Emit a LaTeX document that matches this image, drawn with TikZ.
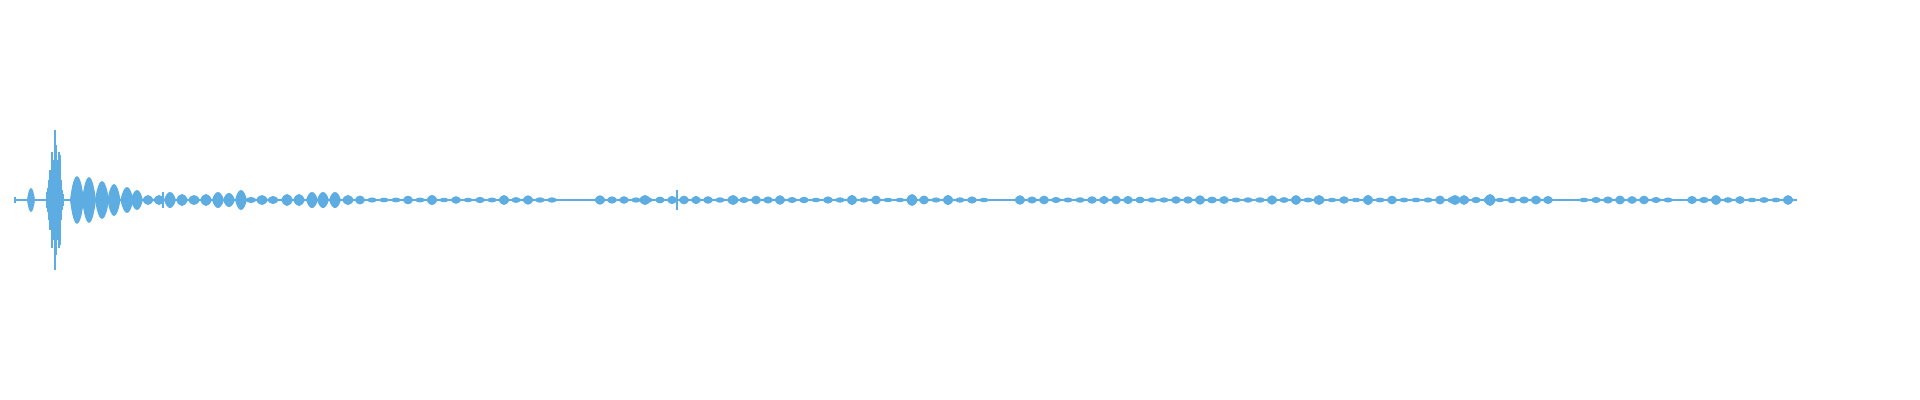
\documentclass[tikz,border=0pt]{standalone}
\usepackage{tikz}
\definecolor{wave}{RGB}{93,173,226}
\tikzset{
  blob/.style={fill=wave, draw=none},
  spike/.style={draw=wave, line width=0.45pt},
}
\newcommand{\blob}[3]{% centre x, half width, half height
  \fill[blob] (#1-#2,200) .. controls (#1-0.45*#2,200-1.33*#3) and (#1+0.45*#2,200-1.33*#3) .. (#1+#2,200)
    .. controls (#1+0.45*#2,200+1.33*#3) and (#1-0.45*#2,200+1.33*#3) .. cycle;}
\begin{document}
\begin{tikzpicture}[x=0.01cm,y=-0.01cm]
    \useasboundingbox (0,0) rectangle (1920,400);
    % thin base line
    \draw[wave, line width=0.5pt] (15,200) -- (360,200);
    \draw[wave, line width=0.3pt] (360,200) -- (1797,200);
    % first click
    \draw[spike] (15,197) -- (15,203);
    \blob{31}{4}{12}
    % main hit
    \foreach \x/\h in {47/8,48/12,49/20,50/30,51/25,52/48,53/35,54/40,55/70,56/55,57/40,58/35,59/48,60/45,61/20,62/10,63/6} {
      \draw[spike] (\x,200-\h) -- (\x,200+\h);
    }
    % decaying ring
    \foreach \x/\w/\h in {77/7/24,89/7/23,102/7/19,114/6.5/16,127/6.5/13,137/6/10,148/5.5/5,
      159/5.5/5,170/6/8,182/6/6,194/6/5,206/6/6,218/6/8,229/6/7,241/6/10,251/6/3,262/6/5,
      273/6/4,287/6/6,299/6/6,312/6/8,323/6/8,335/6/8,348/6/5} {
      \blob{\x}{\w}{\h}
    }
    \draw[spike] (163,192) -- (163,208);
    \draw[spike] (677,190) -- (677,210);
    % long tail
    \foreach \x in {360,372,...,1795} {
      \pgfmathsetmacro{\h}{2.2+3*abs(sin(\x*7.3))*abs(cos(\x*2.1))}
      \pgfmathtruncatemacro{\gap}{(\x>556 && \x<600) || (\x>985 && \x<1010) || (\x>1555 && \x<1580) || (\x>1675 && \x<1690) ? 1 : 0}
      \ifnum\gap=0 \blob{\x}{5.5}{\h}\fi
    }
    \foreach \x/\h in {912/6,1319/5,1455/5,1490/6,645/5,733/5} {
      \blob{\x}{6}{\h}
    }
\end{tikzpicture}
\end{document}
